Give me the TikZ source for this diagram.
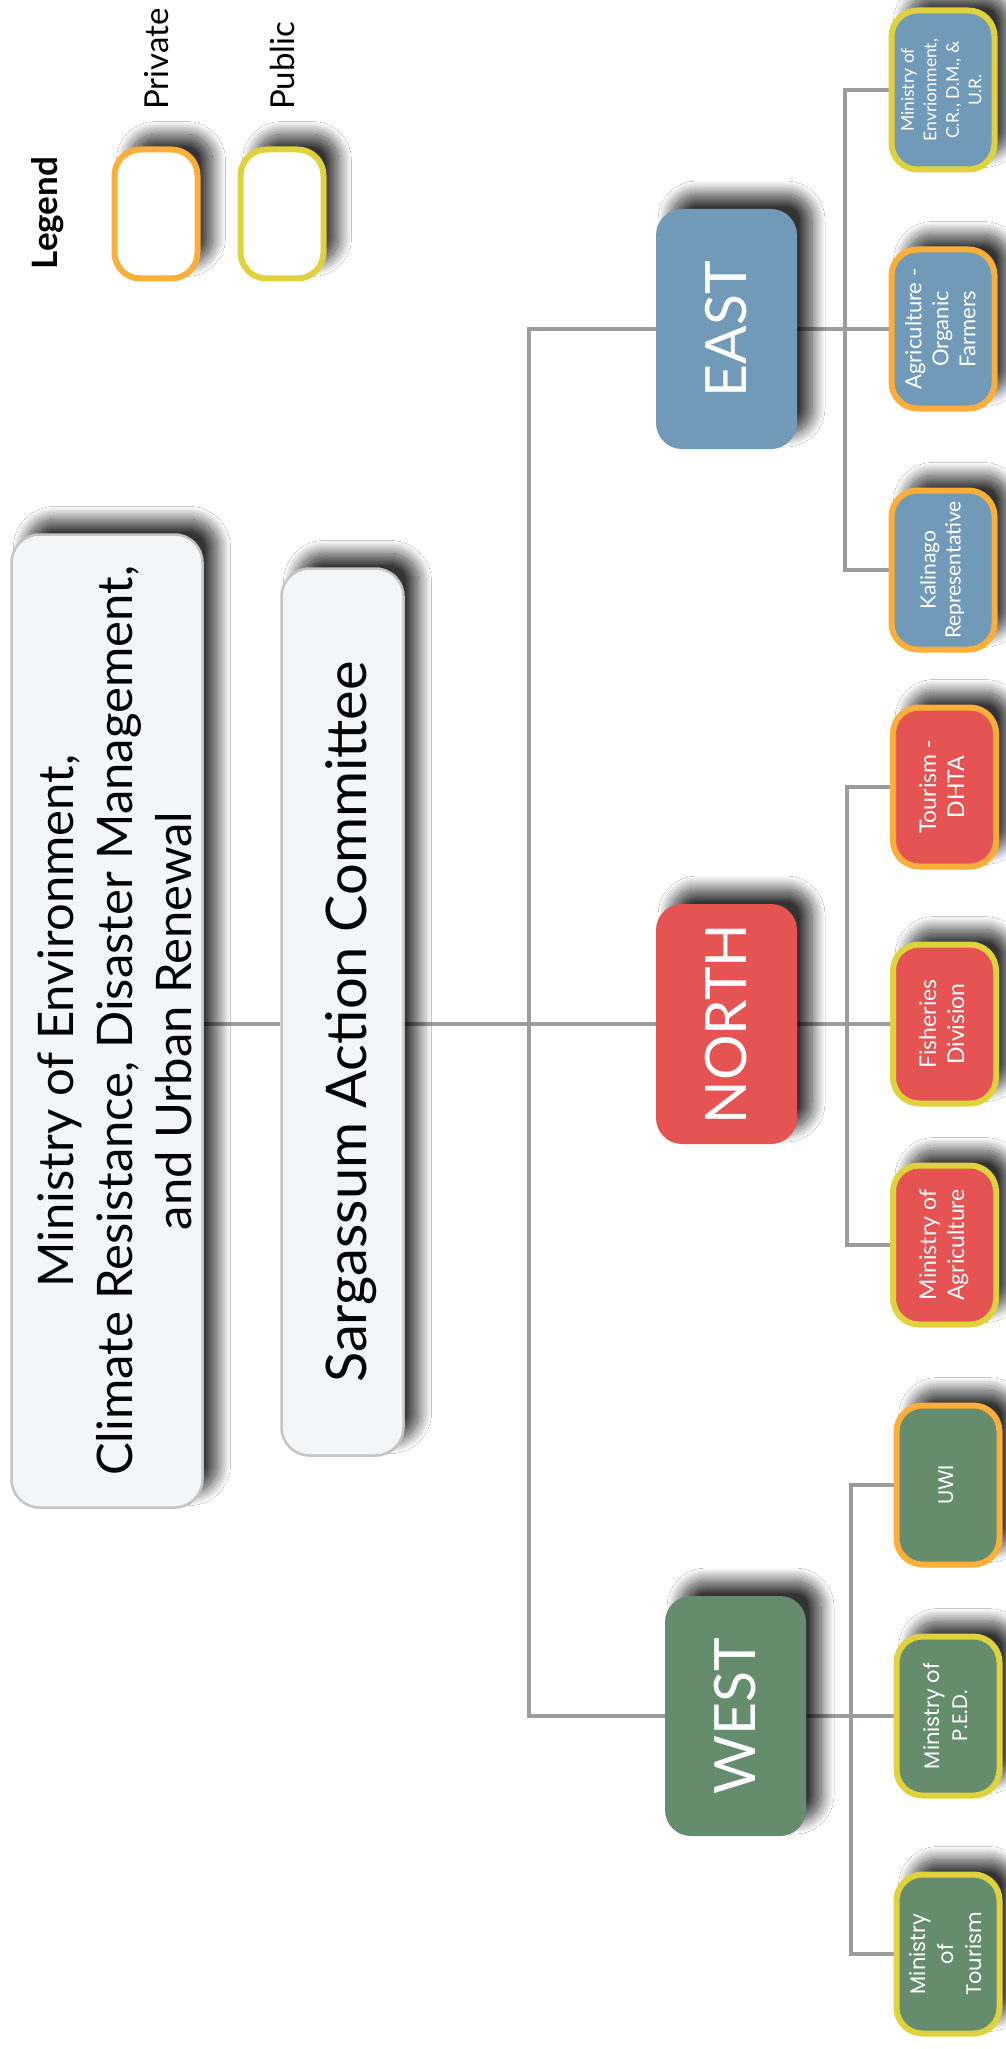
\documentclass[tikz,border=0pt]{standalone}
\usepackage{fontspec}
\setmainfont{Lato}
\newfontfamily\popfont{Poppins}
\usepackage{tikz}
\usetikzlibrary{shadows.blur}
\definecolor{eastblue}{HTML}{7199B8}
\definecolor{northred}{HTML}{E55353}
\definecolor{westgreen}{HTML}{668C6E}
\definecolor{privorange}{HTML}{FBAE3A}
\definecolor{pubyellow}{HTML}{E0D23C}
\definecolor{boxgray}{HTML}{F4F5F7}
\definecolor{edgegray}{HTML}{C4C4C4}
\definecolor{linegray}{HTML}{9B9CA0}
\pgfdeclarelayer{background}
\pgfsetlayers{background,main}
\newcommand{\vtxt}[1]{\rotatebox{90}{\begin{tabular}{@{}c@{}}#1\end{tabular}}}

\begin{document}
\begin{tikzpicture}[x=1pt, y=-1pt,
    boxshadow/.style={blur shadow={shadow xshift=15pt, shadow yshift=15pt, shadow blur radius=13pt, shadow blur steps=24, shadow opacity=80}},
    region/.style={boxshadow, rectangle, rounded corners=26pt, minimum width=141pt, minimum height=240pt, inner sep=0pt, text=white, font=\fontsize{57}{60}\selectfont},
    member/.style={boxshadow, rectangle, rounded corners=26pt, line width=6pt, minimum width=103pt, minimum height=159pt, inner sep=0pt, text=white},
    headbox/.style={boxshadow, rectangle, rounded corners=28pt, draw=edgegray, line width=2.5pt, fill=boxgray, inner sep=0pt},
    wire/.style={draw=linegray, line width=4pt}]
    \useasboundingbox (0,0) rectangle (1005,2049);

    % legend
    \node[font=\bfseries\fontsize{35}{40}\selectfont] (legend) at (47.5,213) {\rotatebox{90}{Legend}};
    \node[member, draw=privorange, fill=white, minimum width=83pt, minimum height=129pt] (privkey) at (156,214) {};
    \node[member, draw=pubyellow, fill=white, minimum width=83pt, minimum height=129pt] (pubkey) at (282,214) {};
    \node[anchor=south, inner sep=0pt, font=\fontsize{33}{38}\selectfont] (privlabel) at (157,110) {\rotatebox{90}{Private}};
    \node[anchor=south, inner sep=0pt, font=\fontsize{33}{38}\selectfont] (publabel) at (282,110) {\rotatebox{90}{Public}};

    % top of the chart
    \node[headbox, minimum width=191pt, minimum height=973pt] (ministry) at (107,1021) {};
    \node[font=\fontsize{49}{59}\selectfont] (ministrytext) at ([xshift=14pt]ministry.center)
        {\vtxt{Ministry of Environment,\\Climate Resistance,  Disaster Management,\\and Urban Renewal}};
    \node[headbox, minimum width=122pt, minimum height=887pt] (sac) at (342.5,1012) {};
    \node[font=\fontsize{56}{60}\selectfont] (sactext) at ([xshift=9pt, yshift=-10pt]sac.center)
        {\rotatebox{90}{Sargassum Action Committee}};

    % regions
    \node[region, fill=eastblue] (east) at (726.5,329) {\rotatebox{90}{EAST}};
    \node[region, fill=northred] (north) at (726.5,1024) {\rotatebox{90}{NORTH}};
    \node[region, fill=westgreen] (west) at (735.5,1716) {\rotatebox{90}{WEST}};

    % east members
    \node[member, fill=eastblue, draw=pubyellow, font=\fontsize{17.5}{22.5}\selectfont] (e1) at (943,90) {\vtxt{Ministry of\\Envrionment,\\C.R., D.M., \&\\U.R.}};
    \node[member, fill=eastblue, draw=privorange, font=\fontsize{22}{27}\selectfont] (e2) at (943,329) {\vtxt{Agriculture -\\Organic\\Farmers}};
    \node[member, fill=eastblue, draw=privorange, font=\fontsize{21}{25}\selectfont] (e3) at (943,570) {\vtxt{Kalinago\\Representative}};

    % north members
    \node[member, fill=northred, draw=privorange, font=\fontsize{23}{28}\selectfont] (n1) at (944.5,787) {\vtxt{Tourism -\\DHTA}};
    \node[member, fill=northred, draw=pubyellow, font=\fontsize{23}{28}\selectfont] (n2) at (944.5,1024) {\vtxt{Fisheries\\Division}};
    \node[member, fill=northred, draw=pubyellow, font=\fontsize{23}{28}\selectfont] (n3) at (944.5,1245) {\vtxt{Ministry of\\Agriculture}};

    % west members
    \node[member, fill=westgreen, draw=privorange, font=\popfont\fontsize{21}{28}\selectfont] (w1) at (948,1485) {\vtxt{UWI}};
    \node[member, fill=westgreen, draw=pubyellow, font=\popfont\fontsize{21}{28}\selectfont] (w2) at (948,1716) {\vtxt{Ministry of\\P.E.D.}};
    \node[member, fill=westgreen, draw=pubyellow, font=\popfont\fontsize{21}{28}\selectfont] (w3) at (948,1954) {\vtxt{Ministry\\of\\Tourism}};

    \coordinate (trunk) at (529,0);
    \coordinate (ebus) at (845,0);
    \coordinate (nbus) at (847,0);
    \coordinate (wbus) at (851,0);

    \begin{pgfonlayer}{background}
        \fill[white] (0,0) rectangle (1005,2049);
        \draw[wire] (ministry.east |- north.west) -- (sac.west |- north.west);
        \draw[wire] (sac.east |- north.west) -- (north.west);
        \draw[wire] (east.west) -| (trunk |- west.west) -- (west.west);
        \draw[wire] (e1.west) -| (ebus |- e3.west) -- (e3.west);
        \draw[wire] (east.east) -- (e2.west);
        \draw[wire] (n1.west) -| (nbus |- n3.west) -- (n3.west);
        \draw[wire] (north.east) -- (n2.west);
        \draw[wire] (w1.west) -| (wbus |- w3.west) -- (w3.west);
        \draw[wire] (west.east) -- (w2.west);
    \end{pgfonlayer}
\end{tikzpicture}
\end{document}
